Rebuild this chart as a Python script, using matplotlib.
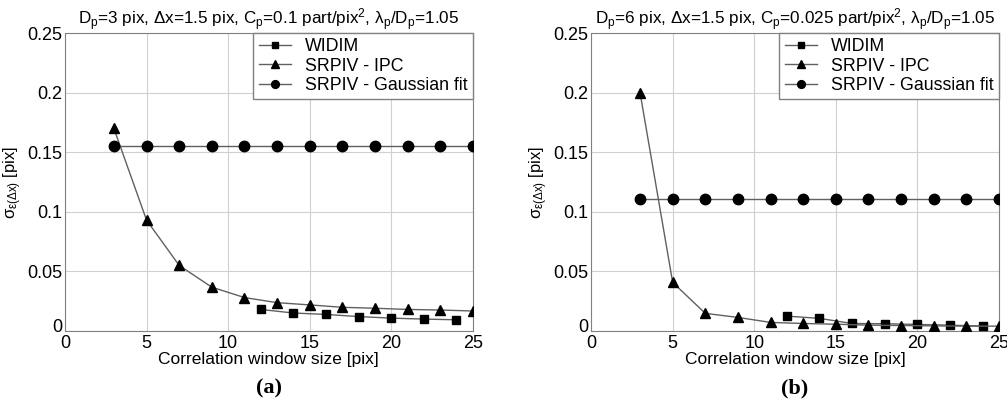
import matplotlib
matplotlib.use('Agg')
import matplotlib.pyplot as plt
import matplotlib.transforms as mtransforms

plt.rcParams['font.family'] = ['Liberation Sans', 'DejaVu Sans']
plt.rcParams['mathtext.fontset'] = 'custom'
plt.rcParams['mathtext.rm'] = 'Liberation Sans'
plt.rcParams['mathtext.it'] = 'Liberation Sans'

# window sizes
ipc_x = [3, 5, 7, 9, 11, 13, 15, 17, 19, 21, 23, 25]
widim_x = [12, 14, 16, 18, 20, 22, 24]

# panel (a): Dp = 3 pix
a_widim = [0.018, 0.015, 0.0138, 0.012, 0.0107, 0.0099, 0.0093]
a_ipc = [0.170, 0.093, 0.055, 0.0367, 0.028, 0.0237, 0.0218, 0.0198,
         0.019, 0.018, 0.0175, 0.0167]
a_gauss = [0.155] * 12

# panel (b): Dp = 6 pix
b_widim = [0.0124, 0.0105, 0.0062, 0.006, 0.0054, 0.0048, 0.004]
b_ipc = [0.200, 0.0407, 0.0147, 0.0113, 0.0071, 0.0062, 0.0056, 0.0048,
         0.0045, 0.0042, 0.004, 0.004]
b_gauss = [0.111] * 12

titles = [r'D$_{\rm p}$=3 pix, $\Delta$x=1.5 pix, C$_{\rm p}$=0.1 part/pix$^{2}$, '
          r'$\lambda_{\rm p}$/D$_{\rm p}$=1.05',
          r'D$_{\rm p}$=6 pix, $\Delta$x=1.5 pix, C$_{\rm p}$=0.025 part/pix$^{2}$, '
          r'$\lambda_{\rm p}$/D$_{\rm p}$=1.05']
tags = ['(a)', '(b)']
panels = [(a_widim, a_ipc, a_gauss), (b_widim, b_ipc, b_gauss)]

fig = plt.figure(figsize=(10.07, 4.04), dpi=100)
lefts = [0.0645, 0.587]
lc = '#606060'

for i in range(2):
    ax = fig.add_axes([lefts[i], 0.181, 0.405, 0.737])
    widim, ipc, gauss = panels[i]
    ax.plot(widim_x, widim, '-', color=lc, lw=1, marker='s', mfc='black',
            mec='black', ms=6, label='WIDIM', zorder=3)
    ax.plot(ipc_x, ipc, '-', color=lc, lw=1, marker='^', mfc='black',
            mec='black', ms=7.5, label='SRPIV - IPC', zorder=3)
    ax.plot(ipc_x, gauss, '-', color=lc, lw=1, marker='o', mfc='black',
            mec='black', ms=7.5, label='SRPIV - Gaussian fit', zorder=3)
    ax.set_xlim(0, 25)
    ax.set_ylim(0, 0.25)
    ax.set_xticks([0, 5, 10, 15, 20, 25])
    ax.set_yticks([0, 0.05, 0.1, 0.15, 0.2, 0.25])
    ax.set_yticklabels(['0', '0.05', '0.1', '0.15', '0.2', '0.25'])
    ax.grid(True, color='#d0d0d0', lw=0.8)
    ax.tick_params(direction='in', length=0, labelsize=13, pad=2)
    ax.tick_params(axis='x', pad=3)
    for s in ax.spines.values():
        s.set_color('#808080')
    # lift the y "0" label a little off the x "0" label
    zero = ax.get_yticklabels()[0]
    zero.set_transform(zero.get_transform() +
                       mtransforms.ScaledTranslation(0, 4 / 72, fig.dpi_scale_trans))
    ax.set_xlabel('Correlation window size [pix]', fontsize=12.5, labelpad=0)
    ax.set_ylabel(r'$\sigma_{\varepsilon(\Delta x)}$ [pix]', fontsize=12, labelpad=2)
    ax.set_title(titles[i], fontsize=12.3, pad=4)
    leg = ax.legend(loc='upper right', numpoints=1, fontsize=12.8, handlelength=1.8,
                    borderaxespad=0, fancybox=False, framealpha=1,
                    labelspacing=0.12, borderpad=0.3, markerscale=0.75)
    leg.get_frame().set_edgecolor('#808080')
    ax.text(0.5, -0.195, tags[i], transform=ax.transAxes, ha='center', va='center',
            fontsize=16, fontweight='bold', family='Liberation Serif')

fig.savefig('out.png', dpi=100)
